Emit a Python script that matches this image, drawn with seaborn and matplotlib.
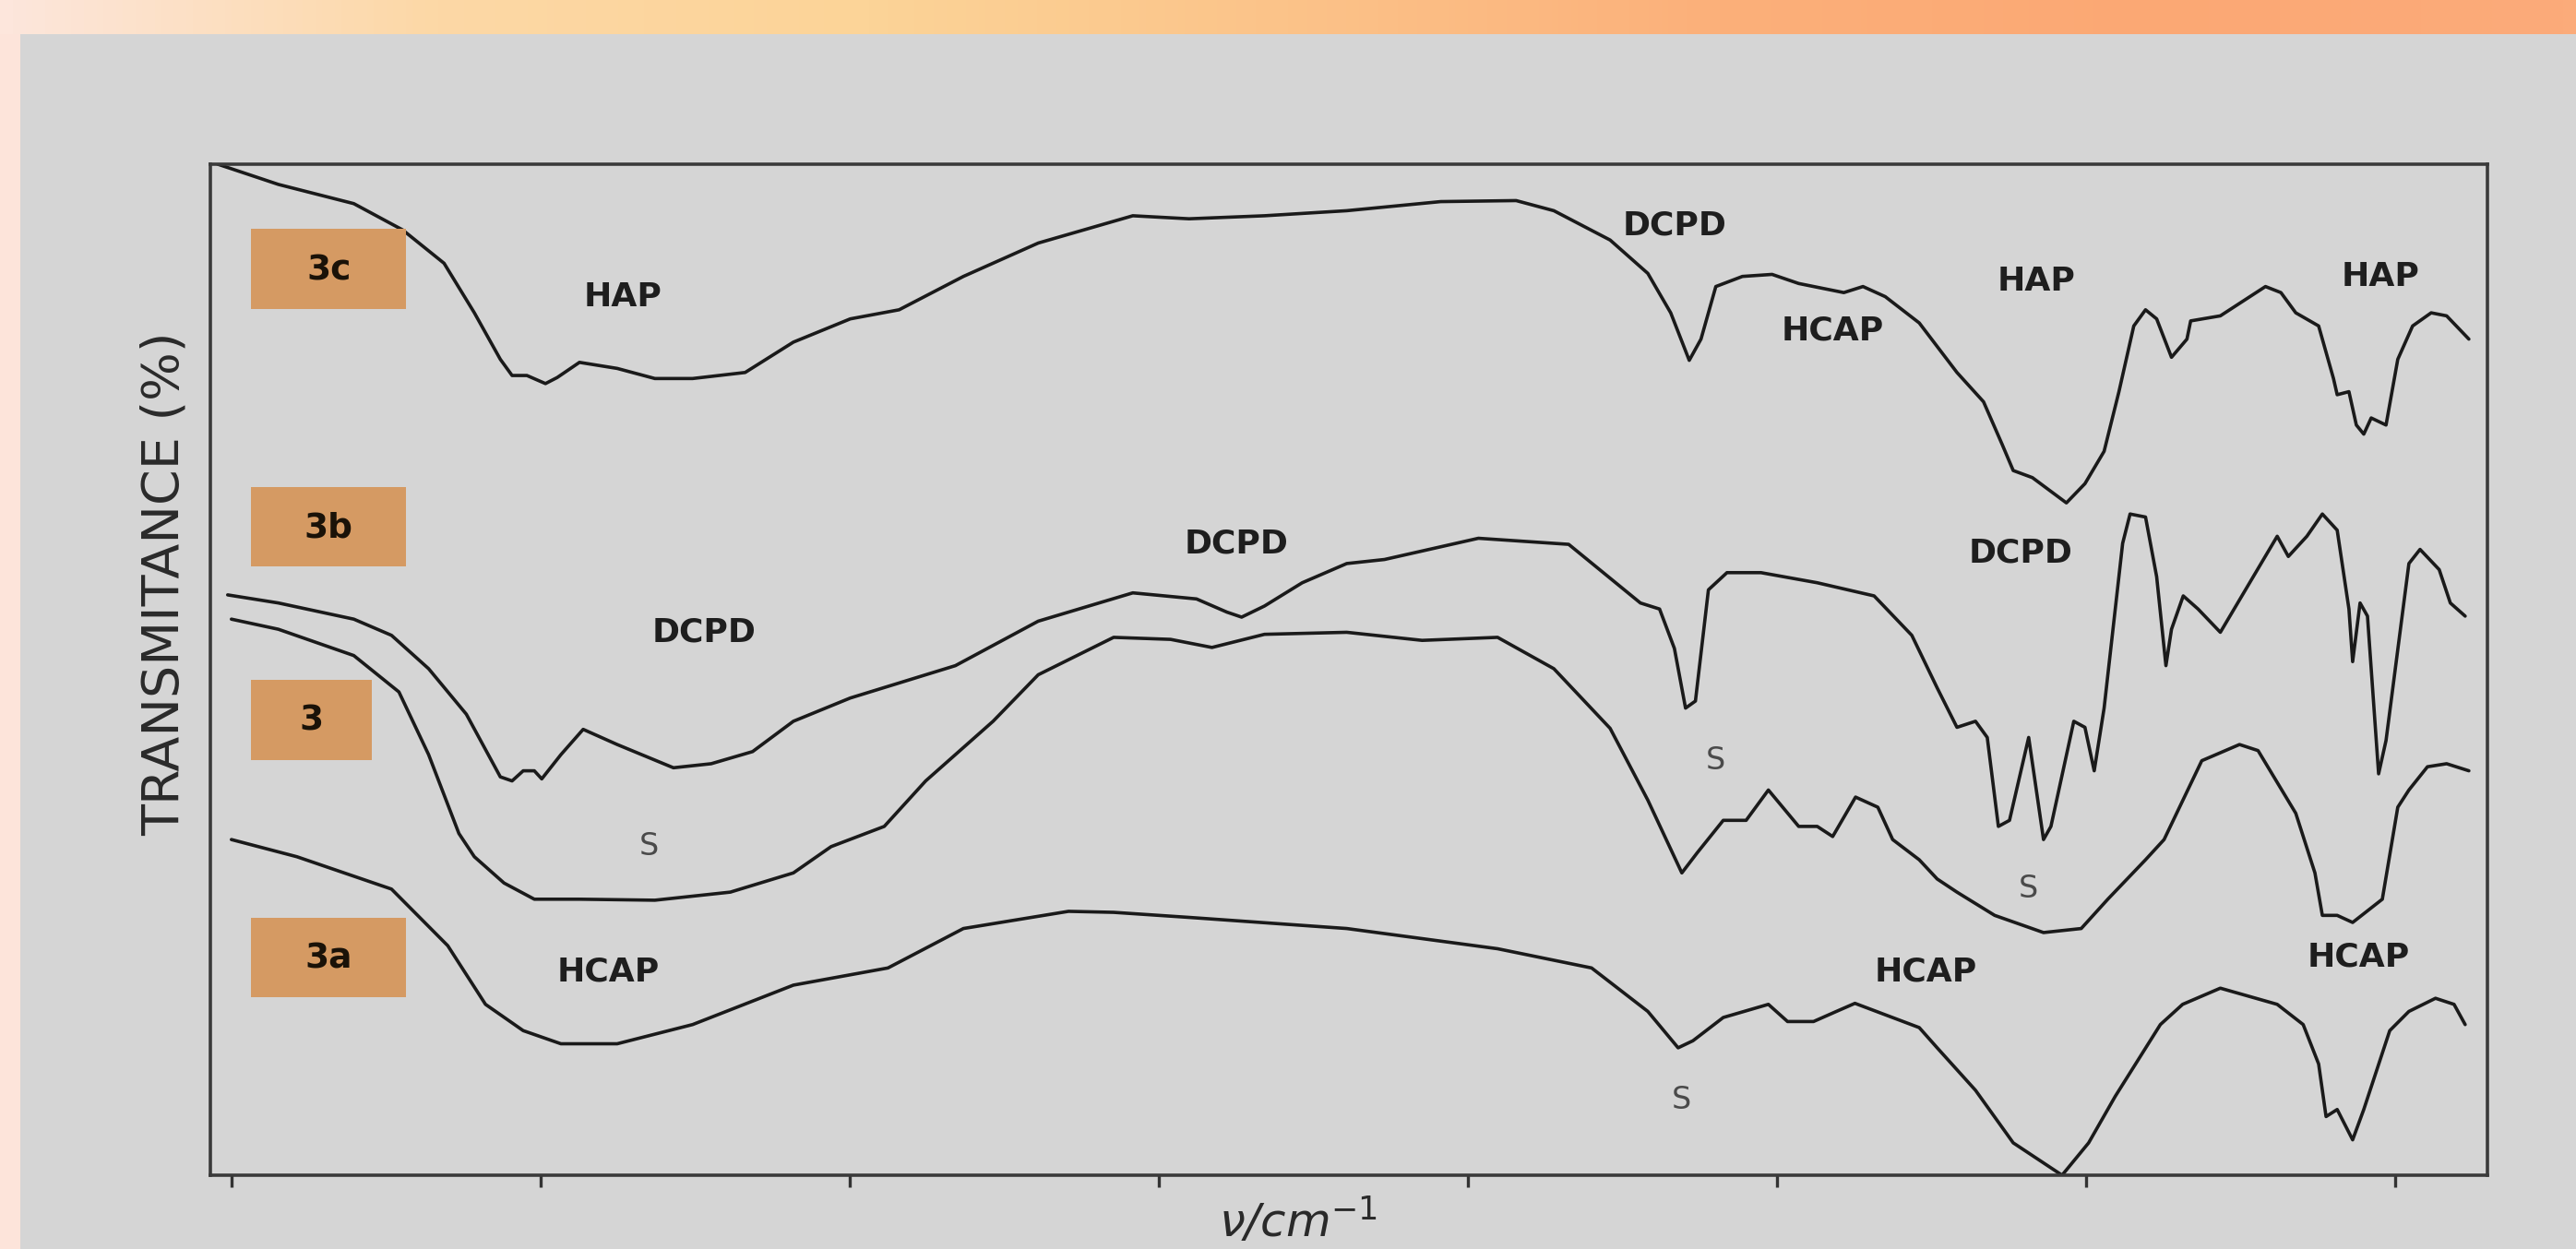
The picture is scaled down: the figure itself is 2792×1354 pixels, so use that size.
import numpy as np
import pandas as pd
import seaborn as sns
import matplotlib.pyplot as plt
from matplotlib.colors import LinearSegmentedColormap
from matplotlib.patches import Rectangle

# Numero de onda (cm-1) y transmitancia (%), una lista por muestra

w_3c = [4022, 3924, 3802, 3723, 3656, 3607, 3565, 3546, 3522, 3492, 3473, 3437, 3376, 3315, 3254, 3169,
        3091, 2999, 2920, 2816, 2695, 2542, 2451, 2329, 2196, 2044, 1922, 1861, 1770, 1709, 1672, 1642,
        1623, 1599, 1556, 1508, 1465, 1392, 1361, 1325, 1270, 1209, 1166, 1136, 1118, 1087, 1032, 1002,
        971, 947, 923, 904, 886, 862, 837, 831, 783, 710, 685, 661, 624, 600, 594, 575, 563, 551, 539,
        515, 496, 472, 442, 417, 381]
t_3c = [100.0, 98.0, 96.1, 93.5, 90.2, 85.3, 80.7, 79.1, 79.1, 78.3, 78.9, 80.4, 79.8, 78.8, 78.8, 79.4,
        82.4, 84.7, 85.6, 88.9, 92.2, 94.9, 94.6, 94.9, 95.4, 96.3, 96.4, 95.4, 92.5, 89.2, 85.3, 80.6,
        82.7, 87.9, 88.9, 89.1, 88.2, 87.3, 87.9, 86.9, 84.3, 79.4, 76.5, 72.3, 69.7, 69.0, 66.5, 68.4,
        71.6, 77.5, 84.0, 85.6, 84.7, 80.9, 82.7, 84.5, 85.0, 87.9, 87.3, 85.3, 84.0, 78.8, 77.2, 77.5,
        74.2, 73.3, 74.9, 74.2, 80.7, 84.0, 85.3, 85.0, 82.7]

w_3b = [4006, 3924, 3802, 3741, 3681, 3620, 3565, 3546, 3528, 3510, 3498, 3467, 3431, 3376, 3285, 3224,
        3157, 3091, 2999, 2829, 2695, 2542, 2439, 2390, 2366, 2329, 2268, 2196, 2135, 1983, 1837, 1721,
        1690, 1666, 1648, 1632, 1611, 1581, 1526, 1435, 1343, 1282, 1241, 1209, 1179, 1160, 1142, 1124,
        1093, 1069, 1057, 1020, 1002, 987, 971, 941, 929, 904, 886, 871, 862, 843, 819, 783, 691, 673,
        643, 618, 594, 575, 569, 557, 545, 527, 515, 478, 460, 429, 411, 387]
t_3b = [57.4, 56.6, 55.0, 53.4, 50.1, 45.6, 39.4, 39.0, 40.0, 40.0, 39.2, 41.6, 44.1, 42.6, 40.3, 40.7,
        41.9, 44.9, 47.2, 50.4, 54.8, 57.6, 57.0, 55.7, 55.2, 56.3, 58.6, 60.5, 60.9, 63.0, 62.4, 56.6,
        56.0, 52.1, 46.2, 46.9, 57.9, 59.6, 59.6, 58.6, 57.3, 53.4, 48.2, 44.3, 44.9, 43.3, 34.5, 35.1,
        43.3, 33.2, 34.5, 44.9, 44.3, 40.0, 46.2, 62.5, 65.4, 65.1, 59.2, 50.4, 54.0, 57.3, 56.0, 53.7,
        63.2, 61.2, 63.2, 65.4, 63.8, 56.0, 50.8, 56.6, 55.3, 39.7, 43.0, 60.5, 61.9, 59.9, 56.6, 55.3]

w_3 = [4000, 3924, 3802, 3729, 3681, 3632, 3607, 3559, 3510, 3437, 3315, 3193, 3091, 3030, 2944, 2877,
       2768, 2695, 2573, 2481, 2414, 2329, 2196, 2074, 1952, 1861, 1770, 1709, 1654, 1629, 1587, 1550,
       1514, 1465, 1435, 1410, 1373, 1337, 1313, 1270, 1241, 1209, 1148, 1069, 1008, 965, 904, 874, 813,
       752, 722, 661, 630, 618, 594, 569, 521, 496, 478, 448, 417, 381]
t_3 = [55.0, 54.0, 51.4, 47.8, 41.6, 33.8, 31.5, 28.9, 27.3, 27.3, 27.2, 28.0, 29.9, 32.5, 34.5, 39.0,
       44.9, 49.5, 53.2, 53.0, 52.2, 53.5, 53.7, 52.9, 53.2, 50.1, 44.2, 37.1, 29.9, 31.9, 35.1, 35.1,
       38.1, 34.5, 34.5, 33.5, 37.4, 36.4, 33.2, 31.2, 29.3, 28.0, 25.7, 24.0, 24.4, 27.3, 31.2, 33.2, 41.0,
       42.6, 42.0, 35.8, 29.9, 25.7, 25.7, 25.0, 27.3, 36.4, 38.1, 40.4, 40.7, 40.0]

w_3a = [4000, 3894, 3741, 3650, 3589, 3528, 3467, 3376, 3254, 3091, 2938, 2816, 2646, 2573, 2451, 2196,
        1952, 1800, 1709, 1660, 1636, 1587, 1514, 1483, 1441, 1404, 1374, 1270, 1241, 1179, 1118, 1039,
        996, 953, 880, 844, 783, 691, 649, 624, 612, 594, 569, 551, 509, 478, 435, 405, 387]
t_3a = [33.2, 31.5, 28.3, 22.7, 16.9, 14.3, 13.0, 13.0, 14.9, 18.8, 20.5, 24.4, 26.1, 26.0, 25.5, 24.4,
        22.4, 20.5, 16.2, 12.6, 13.3, 15.6, 16.9, 15.2, 15.2, 16.2, 17.0, 14.6, 12.6, 8.4, 3.2, 0.0,
        3.2, 7.8, 14.9, 16.9, 18.5, 16.9, 14.9, 11.0, 5.8, 6.5, 3.5, 6.5, 14.3, 16.2, 17.5, 16.9, 14.9]

muestras = ["3c", "3b", "3", "3a"]

# Etiquetas de las bandas (texto, numero de onda, transmitancia)
bandas_txt = ["HAP", "DCPD", "S", "HCAP", "DCPD", "DCPD", "HCAP", "S", "S", "HCAP",
              "HAP", "DCPD", "S", "HAP", "HCAP"]
bandas_w = [3367, 3236, 3324, 3391, 2375, 1666, 1410, 1599, 1654, 1260, 1081, 1106, 1093, 524, 560]
bandas_t = [86.9, 53.7, 32.5, 20.1, 62.5, 93.9, 83.5, 41.0, 7.4, 20.1, 88.4, 61.5, 28.3, 88.9, 21.6]

ticks_w = [4000, 3500, 3000, 2500, 2000, 1500, 1000, 500]

#%%
df = pd.concat([
    pd.DataFrame({"w": w, "T": t, "muestra": m})
    for m, w, t in zip(muestras, [w_3c, w_3b, w_3, w_3a], [t_3c, t_3b, t_3, t_3a])
])

sns.set_style("white")
gris = "#d5d5d5"

fig = plt.figure(figsize=(27.92, 13.54), dpi=100)
fig.patch.set_facecolor(gris)

# franja degradada de arriba y borde rosado a la izquierda
ax_bg = fig.add_axes([0, 1 - 37 / 1354, 1, 37 / 1354])
cmap = LinearSegmentedColormap.from_list("banda", ["#fde6dc", "#fcd8a6", "#fcd498", "#fbc389",
                                                   "#fbb07a", "#fba874", "#fbab7a"])
ax_bg.imshow(np.linspace(0, 1, 400).reshape(1, -1), aspect="auto", cmap=cmap)
ax_bg.axis("off")
fig.patches.append(Rectangle((0, 0), 22 / 2792, 1 - 37 / 1354, transform=fig.transFigure,
                             facecolor="#fde4da", edgecolor="none", zorder=0))

ax = fig.add_axes([228 / 2792, 80 / 1354, 2468 / 2792, 1096 / 1354])
ax.set_facecolor(gris)

sns.lineplot(data=df, x="w", y="T", units="muestra", estimator=None, sort=False,
             color="#1a1a1a", linewidth=2.6, ax=ax)

ax.set_xlim(4034, 351)
ax.set_ylim(0, 100)
ax.set_xticks(ticks_w)
ax.set_xticklabels([])
ax.set_yticks([])
ax.tick_params(axis="x", bottom=True, direction="out", length=9, width=2.4, color="#333333")
ax.set_xlabel("")
ax.set_ylabel("")
for lado in ["left", "right", "top", "bottom"]:
    ax.spines[lado].set_visible(True)
    ax.spines[lado].set_color("#3a3a3a")
    ax.spines[lado].set_linewidth(2.6)

# cajas con el nombre de cada muestra (en fraccion de ejes)
cajas = {"3c": (0.018, 0.857, 0.068), "3b": (0.018, 0.602, 0.068),
         "3": (0.018, 0.411, 0.053), "3a": (0.018, 0.176, 0.068)}
for m in muestras:
    x0, y0, ancho = cajas[m]
    ax.add_patch(Rectangle((x0, y0), ancho, 0.079, transform=ax.transAxes,
                           facecolor="#d59a63", edgecolor="none", zorder=3))
    ax.text(x0 + ancho / 2, y0 + 0.038, m, transform=ax.transAxes, ha="center", va="center",
            fontsize=27, fontweight="bold", color="#1a1208", zorder=4)

for txt, w, t in zip(bandas_txt, bandas_w, bandas_t):
    if txt == "S":
        ax.text(w, t, txt, ha="center", va="center", fontsize=24, color="#4a4a4a")
    else:
        ax.text(w, t, txt, ha="center", va="center", fontsize=26, fontweight="semibold",
                color="#1e1e1e")

fig.text(0.0638, 0.533, "TRANSMITANCE (%)", rotation=90, ha="center", va="center",
         fontsize=40, color="#2a2a2a")
fig.text(0.504, 0.022, r"$\nu$/cm$^{-1}$", ha="center", va="center", fontsize=36,
         color="#2a2a2a", style="italic")

fig.savefig("out.png", dpi=100, facecolor=fig.get_facecolor())
